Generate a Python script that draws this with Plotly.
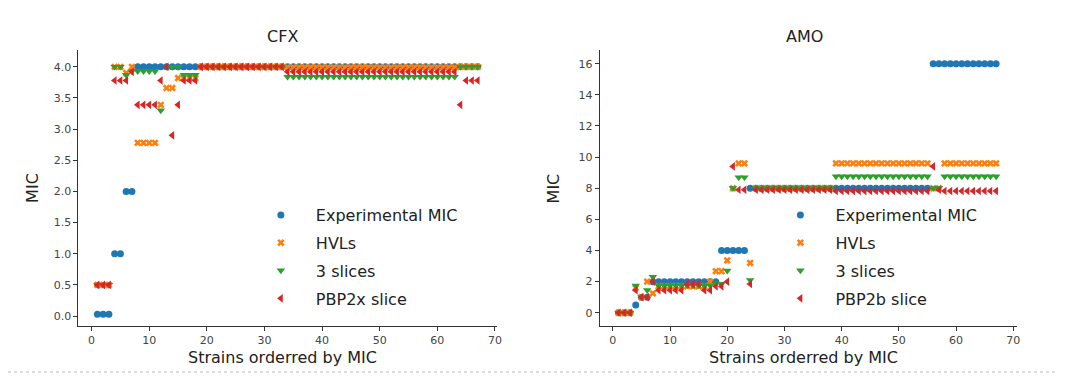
import plotly.graph_objects as go

strains = list(range(1, 68))

# ---------------- CFX ----------------
cfx_exp = [0.03, 0.03, 0.03, 1.0, 1.0, 2.0, 2.0, 4.0, 4.0, 4.0,
           4.0, 4.0, 4.0, 4.0, 4.0, 4.0, 4.0, 4.0, 4.0, 4.0,
           4.0, 4.0, 4.0, 4.0, 4.0, 4.0, 4.0, 4.0, 4.0, 4.0,
           4.0, 4.0, 4.0, 4.0, 4.0, 4.0, 4.0, 4.0, 4.0, 4.0,
           4.0, 4.0, 4.0, 4.0, 4.0, 4.0, 4.0, 4.0, 4.0, 4.0,
           4.0, 4.0, 4.0, 4.0, 4.0, 4.0, 4.0, 4.0, 4.0, 4.0,
           4.0, 4.0, 4.0, 4.0, 4.0, 4.0, 4.0]
cfx_hvl = [0.5, 0.5, 0.5, 4.0, 4.0, 3.9, 4.0, 2.78, 2.78, 2.78,
           2.78, 3.39, 3.66, 3.66, 3.82, 3.82, 3.82, 3.82, 4.0, 4.0,
           4.0, 4.0, 4.0, 4.0, 4.0, 4.0, 4.0, 4.0, 4.0, 4.0,
           4.0, 4.0, 4.0, 3.99, 3.99, 3.99, 3.99, 3.99, 3.99, 3.99,
           3.99, 3.99, 3.99, 3.99, 3.99, 3.99, 3.99, 3.99, 3.99, 3.99,
           3.99, 3.99, 3.99, 3.99, 3.99, 3.99, 3.99, 3.99, 3.99, 3.99,
           3.99, 3.99, 3.99, 4.0, 4.0, 4.0, 4.0]
cfx_3sl = [0.5, 0.5, 0.5, 4.0, 4.0, 3.87, 3.93, 3.93, 3.93, 3.93,
           3.93, 3.3, 4.0, 4.0, 4.0, 3.87, 3.87, 3.87, 4.0, 4.0,
           4.0, 4.0, 4.0, 4.0, 4.0, 4.0, 4.0, 4.0, 4.0, 4.0,
           4.0, 4.0, 4.0, 3.84, 3.84, 3.84, 3.84, 3.84, 3.84, 3.84,
           3.84, 3.84, 3.84, 3.84, 3.84, 3.84, 3.84, 3.84, 3.84, 3.84,
           3.84, 3.84, 3.84, 3.84, 3.84, 3.84, 3.84, 3.84, 3.84, 3.84,
           3.84, 3.84, 3.84, 4.0, 4.0, 4.0, 4.0]
cfx_pbp = [0.5, 0.5, 0.5, 3.78, 3.78, 3.78, 3.92, 3.39, 3.39, 3.39,
           3.39, 3.78, 4.0, 2.9, 3.39, 3.78, 3.78, 3.78, 4.0, 4.0,
           4.0, 4.0, 4.0, 4.0, 4.0, 4.0, 4.0, 4.0, 4.0, 4.0,
           4.0, 4.0, 4.0, 3.92, 3.92, 3.92, 3.92, 3.92, 3.92, 3.92,
           3.92, 3.92, 3.92, 3.92, 3.92, 3.92, 3.92, 3.92, 3.92, 3.92,
           3.92, 3.92, 3.92, 3.92, 3.92, 3.92, 3.92, 3.92, 3.92, 3.92,
           3.92, 3.92, 3.92, 3.39, 3.78, 3.78, 3.78]

# ---------------- AMO ----------------
amo_exp = [0.0, 0.0, 0.0, 0.5, 1.0, 1.0, 2.0, 2.0, 2.0, 2.0,
           2.0, 2.0, 2.0, 2.0, 2.0, 2.0, 2.0, 2.0, 4.0, 4.0,
           4.0, 4.0, 4.0, 8.0, 8.0, 8.0, 8.0, 8.0, 8.0, 8.0,
           8.0, 8.0, 8.0, 8.0, 8.0, 8.0, 8.0, 8.0, 8.0, 8.0,
           8.0, 8.0, 8.0, 8.0, 8.0, 8.0, 8.0, 8.0, 8.0, 8.0,
           8.0, 8.0, 8.0, 8.0, 8.0, 16.0, 16.0, 16.0, 16.0, 16.0,
           16.0, 16.0, 16.0, 16.0, 16.0, 16.0, 16.0]
amo_hvl = [0.0, 0.0, 0.0, 1.6, 1.0, 2.0, 1.25, 1.7, 1.7, 1.7,
           1.7, 1.7, 1.7, 1.7, 1.7, 1.7, 2.0, 2.67, 2.67, 3.37,
           8.0, 9.6, 9.6, 3.2, 8.0, 8.0, 8.0, 8.0, 8.0, 8.0,
           8.0, 8.0, 8.0, 8.0, 8.0, 8.0, 8.0, 8.0, 9.6, 9.6,
           9.6, 9.6, 9.6, 9.6, 9.6, 9.6, 9.6, 9.6, 9.6, 9.6,
           9.6, 9.6, 9.6, 9.6, 9.6, 8.0, 8.0, 9.6, 9.6, 9.6,
           9.6, 9.6, 9.6, 9.6, 9.6, 9.6, 9.6]
amo_3sl = [0.0, 0.0, 0.0, 1.75, 1.0, 1.45, 2.3, 1.75, 1.75, 1.75,
           1.75, 1.75, 1.75, 1.75, 1.75, 1.75, 1.75, 1.85, 1.85, 2.7,
           8.0, 8.7, 8.7, 2.1, 8.0, 8.0, 8.0, 8.0, 8.0, 8.0,
           8.0, 8.0, 8.0, 8.0, 8.0, 8.0, 8.0, 8.0, 8.76, 8.76,
           8.76, 8.76, 8.76, 8.76, 8.76, 8.76, 8.76, 8.76, 8.76, 8.76,
           8.76, 8.76, 8.76, 8.76, 8.76, 8.0, 8.0, 8.76, 8.76, 8.76,
           8.76, 8.76, 8.76, 8.76, 8.76, 8.76, 8.76]
amo_pbp = [0.0, 0.0, 0.0, 1.45, 1.0, 1.0, 2.0, 1.45, 1.45, 1.45,
           1.45, 1.45, 1.85, 1.85, 1.85, 1.45, 1.45, 1.7, 1.7, 2.0,
           9.4, 7.9, 7.9, 1.85, 7.9, 7.9, 7.9, 7.9, 7.9, 7.9,
           7.9, 7.9, 7.9, 7.9, 7.9, 7.9, 7.9, 7.9, 7.82, 7.82,
           7.82, 7.82, 7.82, 7.82, 7.82, 7.82, 7.82, 7.82, 7.82, 7.82,
           7.82, 7.82, 7.82, 7.82, 7.82, 9.4, 7.9, 7.82, 7.82, 7.82,
           7.82, 7.82, 7.82, 7.82, 7.82, 7.82, 7.82]

x_ticks = [0, 10, 20, 30, 40, 50, 60, 70]
cfx_yticks = [0.0, 0.5, 1.0, 1.5, 2.0, 2.5, 3.0, 3.5, 4.0]
amo_yticks = [0, 2, 4, 6, 8, 10, 12, 14, 16]

colors = ["#1f77b4", "#ff7f0e", "#2ca02c", "#d62728"]
symbols = ["circle", "x", "triangle-down", "triangle-left"]
sizes = [7, 6.5, 7.5, 7.5]

# page has an 8px body margin; the figure is sized to fit the window
OFF = 8
W, H = 1066 - OFF, 376 - OFF
FONT = "DejaVu Sans"

def px_x(p):
    return (p - OFF) / W

def px_y(p):
    return 1 - (p - OFF) / H

fig = go.Figure()

panels = [
    ("x", "y", "legend", [cfx_exp, cfx_hvl, cfx_3sl, cfx_pbp],
     ["Experimental MIC", "HVLs", "3 slices", "PBP2x slice"]),
    ("x2", "y2", "legend2", [amo_exp, amo_hvl, amo_3sl, amo_pbp],
     ["Experimental MIC", "HVLs", "3 slices", "PBP2b slice"]),
]
for xa, ya, lg, series, names in panels:
    for i, (vals, nm) in enumerate(zip(series, names)):
        fig.add_trace(go.Scatter(
            x=strains, y=vals, mode="markers", name=nm,
            xaxis=xa, yaxis=ya, legend=lg, legendgroup=lg + str(i),
            marker=dict(color=colors[i], symbol=symbols[i], size=sizes[i],
                        line=dict(width=0)),
        ))

axis_common = dict(showline=True, linecolor="#333", linewidth=1, ticks="outside",
                   ticklen=4, tickwidth=1, tickcolor="#333", showgrid=False,
                   zeroline=False, tickfont=dict(family=FONT, size=11, color="#444"))

ytop, ybot = 50, 326
legend_common = dict(xanchor="left", yanchor="top", itemwidth=60,
                     font=dict(family=FONT, size=16, color="#222"),
                     bgcolor="rgba(0,0,0,0)", traceorder="grouped", tracegroupgap=4)
fig.update_layout(
    width=W, height=H, margin=dict(l=0, r=0, t=0, b=0),
    plot_bgcolor="white", paper_bgcolor="white",
    font=dict(family=FONT, color="#222"),
    xaxis=dict(domain=[px_x(78.7), px_x(499)], range=[-2.3, 70.3],
               tickvals=x_ticks, anchor="y", **axis_common),
    yaxis=dict(domain=[px_y(ybot), px_y(ytop)], range=[-0.16, 4.27],
               tickvals=cfx_yticks, tickformat=".1f", anchor="x", **axis_common),
    xaxis2=dict(domain=[px_x(602.5), px_x(1021.5)], range=[-2.3, 70.6],
                tickvals=x_ticks, anchor="y2", **axis_common),
    yaxis2=dict(domain=[px_y(ybot), px_y(ytop)], range=[-0.85, 16.88],
                tickvals=amo_yticks, anchor="x2", **axis_common),
    legend=dict(x=px_x(247), y=px_y(198), **legend_common),
    legend2=dict(x=px_x(769), y=px_y(198), **legend_common),
    showlegend=True,
)

ann = [
    dict(text="CFX", x=px_x(284), y=px_y(37)),
    dict(text="AMO", x=px_x(808), y=px_y(37)),
    dict(text="Strains orderred by MIC", x=px_x(284), y=px_y(357)),
    dict(text="Strains orderred by MIC", x=px_x(807), y=px_y(357)),
]
for a in ann:
    fig.add_annotation(xref="paper", yref="paper", showarrow=False,
                       xanchor="center", yanchor="middle",
                       font=dict(family=FONT, size=16, color="#222"), **a)
for xp in (33, 557):
    fig.add_annotation(text="MIC", xref="paper", yref="paper", x=px_x(xp), y=px_y(188),
                       showarrow=False, textangle=-90, xanchor="center", yanchor="middle",
                       font=dict(family=FONT, size=16, color="#222"))

fig.add_shape(type="line", xref="paper", yref="paper", x0=0, x1=1,
              y0=px_y(372), y1=px_y(372), line=dict(color="#bbb", width=1, dash="dot"))

fig.write_html("out.html")
